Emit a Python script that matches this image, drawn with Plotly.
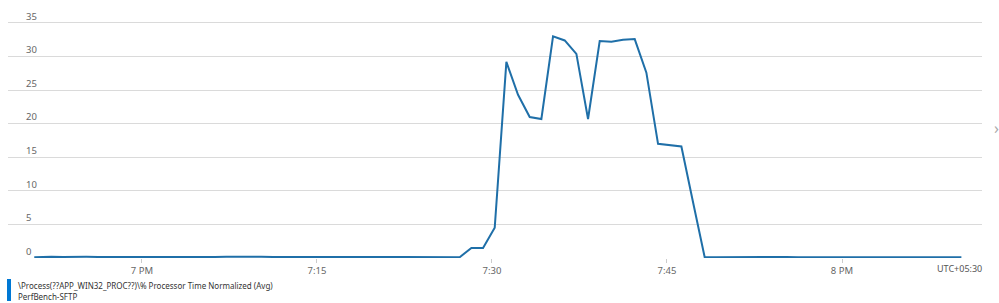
import pandas as pd
import plotly.graph_objects as go

# ---- data ----
first_time = ["2020-01-01 18:50:46"]
regular_times = pd.date_range("2020-01-01 18:51:14", "2020-01-01 20:10:14", freq="1min").strftime("%Y-%m-%d %H:%M:%S").tolist()
times = first_time + regular_times

values_pre = [0.12,
              0.15, 0.18, 0.16, 0.20, 0.17, 0.15, 0.14, 0.13, 0.15,
              0.16, 0.18, 0.15, 0.13, 0.14, 0.16, 0.15, 0.17, 0.20, 0.22,
              0.18, 0.15, 0.14, 0.13, 0.12, 0.14, 0.15, 0.16, 0.15, 0.14,
              0.13, 0.15, 0.16, 0.14, 0.13, 0.12, 0.11]
values_peak = [0.12, 1.5, 1.5, 4.5, 29.2, 24.3, 21.0, 20.7, 33.0, 32.4, 30.4,
               20.7, 32.3, 32.2, 32.5, 32.6, 27.6, 17.0, 16.8, 16.6, 8.3, 0.1]
values_post = [0.12, 0.14, 0.13, 0.12, 0.15, 0.16, 0.14, 0.13, 0.12, 0.14, 0.15,
               0.16, 0.15, 0.13, 0.12, 0.14, 0.13, 0.12, 0.11, 0.12, 0.13, 0.12]
values = values_pre + values_peak + values_post

tick_vals = ["2020-01-01 19:00:00", "2020-01-01 19:15:00", "2020-01-01 19:30:00",
             "2020-01-01 19:45:00", "2020-01-01 20:00:00"]
tick_text = ["7 PM", "7:15", "7:30", "7:45", "8 PM"]
y_ticks = [0, 5, 10, 15, 20, 25, 30, 35]

series_name = "\\Process(??APP_WIN32_PROC??)\\% Processor Time Normalized (Avg)"
resource_name = "PerfBench-SFTP"
tz_label = "UTC+05:30"

FONT = "Noto Sans"
W, H = 999, 303
ML, MR, MT, MB = 8, 17, 8, 45
PW = W - ML - MR
PH = H - MT - MB

def px_x(p):
    return (p - ML) / PW

def px_y(p):
    return (H - MB - p) / PH

fig = go.Figure()
fig.add_trace(go.Scatter(
    x=times, y=values, mode="lines",
    line=dict(color="#1f6fa8", width=2),
    showlegend=False, hoverinfo="x+y",
))

fig.update_layout(
    width=W, height=H,
    margin=dict(l=ML, r=MR, t=MT, b=MB),
    paper_bgcolor="white", plot_bgcolor="white",
    font=dict(family=FONT, size=10, color="#666666"),
    xaxis=dict(
        type="date",
        range=["2020-01-01 18:48:31", "2020-01-01 20:12:00"],
        tickvals=tick_vals, ticktext=tick_text,
        showgrid=False, zeroline=False, showline=False,
        ticks="outside", ticklen=4, tickcolor="#cccccc", tickwidth=1,
        tickfont=dict(family=FONT, size=9.5, color="#666666"),
    ),
    yaxis=dict(
        range=[0, 37.23], tickvals=y_ticks,
        showgrid=True, gridcolor="#dadada", gridwidth=1,
        zeroline=False, showline=False,
        ticklabelposition="inside top", ticklabelstandoff=15,
        tickfont=dict(family=FONT, size=9.5, color="#666666"),
    ),
)

fig.add_shape(type="rect", xref="paper", yref="paper",
              x0=px_x(7), x1=px_x(11), y0=px_y(301), y1=px_y(279),
              fillcolor="#0078d4", line=dict(width=0))
fig.add_annotation(x=px_x(16), y=px_y(285), xref="paper", yref="paper",
                   text=series_name, showarrow=False, xanchor="left", yanchor="middle",
                   font=dict(family=FONT, size=8, color="#333333"))
fig.add_annotation(x=px_x(16), y=px_y(296), xref="paper", yref="paper",
                   text=resource_name, showarrow=False, xanchor="left", yanchor="middle",
                   font=dict(family=FONT, size=8, color="#333333"))
fig.add_annotation(x=px_x(984), y=px_y(268.5), xref="paper", yref="paper",
                   text=tz_label, showarrow=False, xanchor="right", yanchor="middle",
                   font=dict(family=FONT, size=9, color="#555555"))
fig.add_annotation(x=px_x(996), y=px_y(128), xref="paper", yref="paper",
                   text="›", showarrow=False, xanchor="center", yanchor="middle",
                   font=dict(family=FONT, size=16, color="#aaaaaa"))

fig.write_html("out.html")
